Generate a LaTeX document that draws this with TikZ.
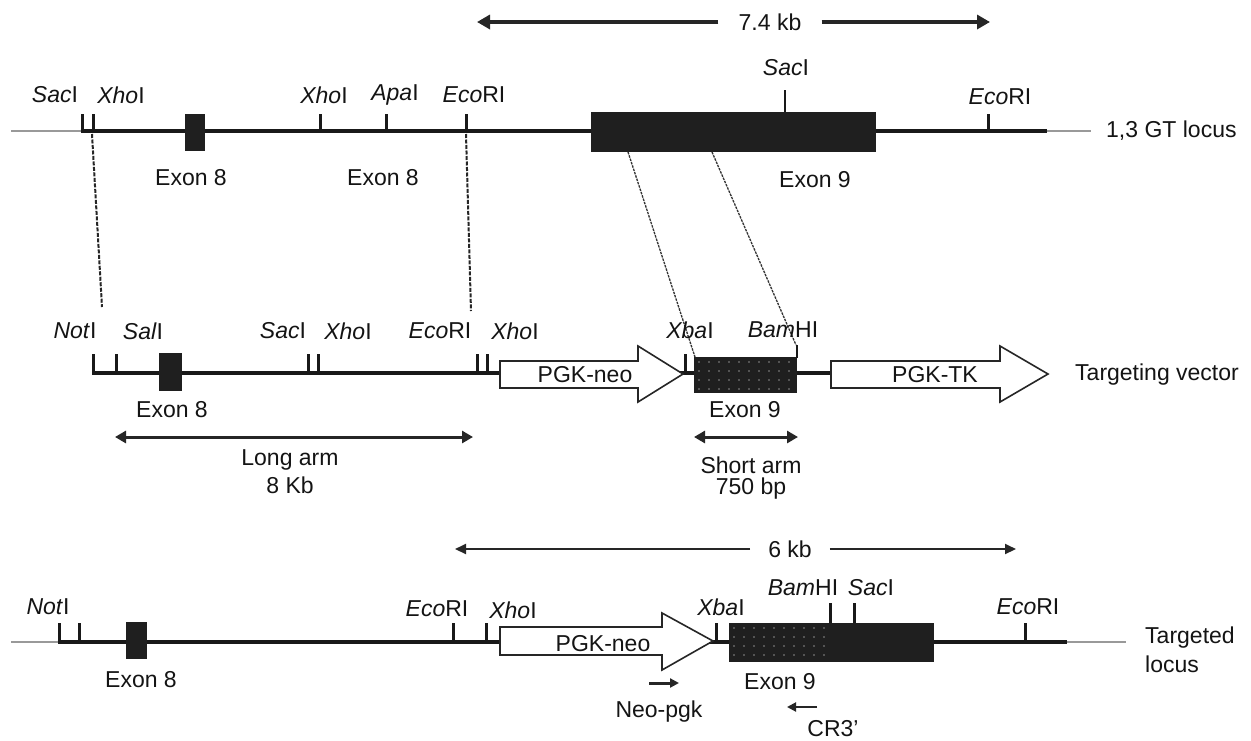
\documentclass[tikz,border=0pt]{standalone}
\usepackage{fontspec}
\setmainfont{Liberation Sans}
\usetikzlibrary{arrows.meta}
\begin{document}
\begin{tikzpicture}[x=1pt,y=-1pt,
  lbl/.style={font=\fontsize{23}{26}\selectfont, text=black!92, inner sep=0pt},
  dna/.style={line width=4pt, black!90},
  grayline/.style={line width=2pt, black!40},
  tick/.style={line width=3pt, black!90},
  thintick/.style={line width=1.5pt, black!90},
  blockarrow/.style={draw=black!85, fill=white, line width=1.6pt, line join=miter},
  sizearrow/.style={line width=3.5pt, black!85, -{Triangle[length=13pt,width=14pt]}},
  thinsize/.style={line width=2pt, black!85, -{Triangle[length=11pt,width=10pt]}},
  armarrow/.style={line width=3pt, black!85, {Triangle[length=11pt,width=12pt]}-{Triangle[length=11pt,width=12pt]}},
  primer/.style={line width=3pt, black!85, -{Triangle[length=9pt,width=9pt]}},
  guide/.style={line width=2pt, black!85, dash pattern=on 4pt off 1.5pt},
  fineguide/.style={line width=1.3pt, black!80, dash pattern=on 2.5pt off 1pt},
  dotty/.style={fill=black!45},
]
\useasboundingbox[fill=white] (0,0) rectangle (1251,740);

% ================= top: 1,3 GT locus =================
\node[lbl, inner xsep=20pt, inner ysep=2pt] (kb74) at (770,22) {7.4 kb};
\coordinate (kb74L) at (477,22);
\coordinate (kb74R) at (990,22);
\draw[sizearrow] (kb74.west) -- (kb74L);
\draw[sizearrow] (kb74.east) -- (kb74R);

\draw[grayline] (11,131) -- (82,131);
\draw[dna] (80.5,131) -- (1047,131);
\draw[grayline] (1047,131) -- (1091,131);
\foreach \x in {82,93,320,386,466,988} \draw[tick] (\x,131) -- (\x,114);
\fill[black!88] (185,114) rectangle (205,151);
\fill[black!88] (591,112) rectangle (876,152);
\draw[thintick] (785,112) -- (785,90);

\node[lbl] (gSac1) at (55,95) {\textit{Sac}I};
\node[lbl] (gXho1) at (121,95) {\textit{Xho}I};
\node[lbl] (gXho2) at (324,95) {\textit{Xho}I};
\node[lbl] (gApa) at (395,95) {\textit{Apa}I};
\node[lbl] (gEco1) at (474,95) {\textit{Eco}RI};
\node[lbl] (gSac2) at (786,68) {\textit{Sac}I};
\node[lbl] (gEco2) at (1000,97) {\textit{Eco}RI};
\node[lbl] (gEx8a) at (191,178) {Exon 8};
\node[lbl] (gEx8b) at (383,178) {Exon 8};
\node[lbl] (gEx9) at (815,180) {Exon 9};
\node[lbl, anchor=west] (gName) at (1106,131) {1,3 GT locus};

% ================= guides =================
\coordinate (gA) at (92,134);
\coordinate (tA) at (102,307);
\coordinate (gB) at (466,134);
\coordinate (tB) at (471,311);
\draw[guide] (gA) -- (tA);
\draw[guide] (gB) -- (tB);
\coordinate (gC) at (628,152);
\coordinate (tC) at (695,357);
\coordinate (gD) at (712,152);
\coordinate (tD) at (796,345);
\draw[fineguide] (gC) -- (tC);
\draw[fineguide] (gD) -- (tD);

% ================= middle: targeting vector =================
\draw[dna, line width=3.5pt] (92,373) -- (505,373);
\draw[dna, line width=3.5pt] (680,373) -- (700,373);
\draw[dna, line width=3.5pt] (790,373) -- (835,373);
\foreach \x in {93,116,308,318,477,487,685} \draw[tick] (\x,374) -- (\x,354);
\fill[black!88] (159,353) rectangle (182,391);

\draw[blockarrow] (500,361) -- (638,361) -- (638,346) -- (683,374) -- (638,402) -- (638,388) -- (500,388) -- cycle;
\node[lbl] (tNeo) at (585,375) {PGK-neo};
\draw[blockarrow] (831,361) -- (1000,361) -- (1000,346) -- (1048,374) -- (1000,402) -- (1000,388) -- (831,388) -- cycle;
\node[lbl] (tTK) at (935,375) {PGK-TK};

\fill[black!88] (694,357) rectangle (797,393);
\foreach \x in {699,709,...,792} \foreach \y in {362,371,...,389} \fill[dotty] (\x,\y) circle (0.8pt);
\draw[tick, line width=2pt] (797,358) -- (797,345);

\node[lbl] (tNot) at (75,331) {\textit{Not}I};
\node[lbl] (tSal) at (143,331) {\textit{Sal}I};
\node[lbl] (tSac) at (283,331) {\textit{Sac}I};
\node[lbl] (tXho1) at (348,331) {\textit{Xho}I};
\node[lbl] (tEco) at (440,331) {\textit{Eco}RI};
\node[lbl] (tXho2) at (515,331) {\textit{Xho}I};
\node[lbl] (tXba) at (690,330) {\textit{Xba}I};
\node[lbl] (tBam) at (783,330) {\textit{Bam}HI};
\node[lbl] (tEx8) at (172,410) {Exon 8};
\node[lbl] (tEx9) at (745,410) {Exon 9};
\node[lbl] (tName) at (1157,375) {Targeting vector};

\coordinate (laL) at (115,437);
\coordinate (laR) at (473,437);
\draw[armarrow] (laL) -- (laR);
\node[lbl] (tLong) at (290,460) {Long arm};
\node[lbl] (tLong2) at (290,485) {8 Kb};
\coordinate (saL) at (694,437);
\coordinate (saR) at (798,437);
\draw[armarrow] (saL) -- (saR);
\node[lbl] (tShort) at (751,465) {Short arm};
\node[lbl] (tShort2) at (751,489) {750 bp};

% ================= bottom: targeted locus =================
\node[lbl, inner xsep=18pt, inner ysep=2pt] (kb6) at (790,549) {6 kb};
\coordinate (kb6L) at (455,549);
\coordinate (kb6R) at (1016,549);
\draw[thinsize] (kb6.west) -- (kb6L);
\draw[thinsize] (kb6.east) -- (kb6R);

\draw[grayline] (11,642) -- (59,642);
\draw[dna] (57.5,642) -- (1067,642);
\draw[grayline] (1067,642) -- (1126,642);
\foreach \x in {59,79,453,486,716,1025} \draw[tick] (\x,642) -- (\x,623);
\fill[black!88] (126,622) rectangle (147,659);

\draw[blockarrow] (500,627) -- (662,627) -- (662,613) -- (713,641) -- (662,670) -- (662,655) -- (500,655) -- cycle;
\node[lbl] (bNeo) at (603,644) {PGK-neo};

\fill[black!88] (729,623) rectangle (934,662);
\foreach \x in {734,744,...,829} \foreach \y in {628,637,...,657} \fill[dotty] (\x,\y) circle (0.8pt);
\foreach \x in {830,854} \draw[tick] (\x,623) -- (\x,603);

\node[lbl] (bNot) at (48,607) {\textit{Not}I};
\node[lbl] (bEco1) at (437,609) {\textit{Eco}RI};
\node[lbl] (bXho) at (513,610) {\textit{Xho}I};
\node[lbl] (bXba) at (721,607) {\textit{Xba}I};
\node[lbl] (bBam) at (803,588) {\textit{Bam}HI};
\node[lbl] (bSac) at (871,588) {\textit{Sac}I};
\node[lbl] (bEco2) at (1028,607) {\textit{Eco}RI};
\node[lbl] (bEx8) at (141,680) {Exon 8};
\node[lbl] (bEx9) at (780,682) {Exon 9};
\node[lbl, anchor=west] (bName1) at (1145,638) {Targeted};
\node[lbl, anchor=west] (bName2) at (1145,664) {locus};

\coordinate (npA) at (649,683);
\coordinate (npB) at (679,683);
\draw[primer] (npA) -- (npB);
\node[lbl] (bNp) at (659,712) {Neo-pgk};
\coordinate (crA) at (817,707);
\coordinate (crB) at (787,707);
\draw[primer, line width=2pt] (crA) -- (crB);
\node[lbl] (bCr) at (833,729) {CR3'};
\end{tikzpicture}
\end{document}
